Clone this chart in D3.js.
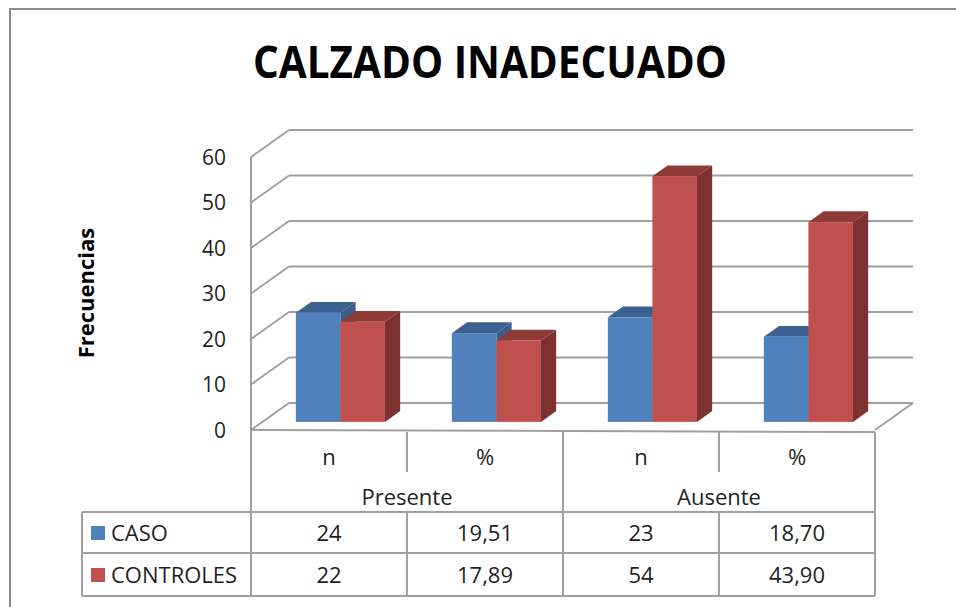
<!DOCTYPE html>
<html>
<head>
<meta charset="utf-8">
<script src="https://cdn.jsdelivr.net/npm/d3@7"></script>
<style>
  body { margin: 0; background: #fff; }
  svg { display: block; font-family: "Open Sans", sans-serif; }
</style>
</head>
<body>
<svg id="chart" width="956" height="607"></svg>
<script>
// data
const categories = ['Presente n', 'Presente %', 'Ausente n', 'Ausente %'];
const subLabels = ['n', '%', 'n', '%'];
const groups = ['Presente', 'Ausente'];
const seriesNames = ['CASO', 'CONTROLES'];
const casoValues = [24, 19.51, 23, 18.70];
const controlesValues = [22, 17.89, 54, 43.90];
const casoLabels = ['24', '19,51', '23', '18,70'];
const controlesLabels = ['22', '17,89', '54', '43,90'];
const yTicks = [0, 10, 20, 30, 40, 50, 60];

const colors = {
  CASO: { front: '#4f81bd', top: '#3c6190', side: '#385d8a' },
  CONTROLES: { front: '#c0504d', top: '#903a38', side: '#7d3130' }
};

const svg = d3.select('#chart');
const gridColor = '#a0a0a0';

// outer frame
svg.append('rect')
  .attr('x', 10).attr('y', 9).attr('width', 960).attr('height', 620)
  .attr('fill', 'none').attr('stroke', '#8c8c8c').attr('stroke-width', 2);

// title
svg.append('text')
  .attr('x', 490).attr('y', 62)
  .attr('dy', '0.35em')
  .attr('text-anchor', 'middle')
  .attr('textLength', 474)
  .attr('lengthAdjust', 'spacingAndGlyphs')
  .style('font-size', '45px')
  .style('font-weight', 'bold')
  .style('fill', '#000')
  .text('CALZADO INADECUADO');

// 3d projection params
const DX = 38, DY = 27;
const x = d3.scaleBand().domain(categories).range([251, 875]).paddingInner(0).paddingOuter(0);
const xs = d3.scaleBand().domain(seriesNames).range([0, x.bandwidth()]).paddingInner(0).paddingOuter(0.75);
const y = d3.scaleLinear().domain([0, 60]).range([430, 157]);

const px = (xf, d) => xf + d * DX;
const py = (v, d) => y(v) - d * DY;

// walls / grid
const grid = svg.append('g').attr('stroke', gridColor).attr('stroke-width', 2).attr('fill', 'none');
yTicks.forEach(t => {
  grid.append('line')
    .attr('x1', px(251, 1)).attr('y1', py(t, 1))
    .attr('x2', px(875, 1)).attr('y2', py(t, 1));
  grid.append('line')
    .attr('x1', px(251, 0)).attr('y1', py(t, 0))
    .attr('x2', px(251, 1)).attr('y2', py(t, 1));
});
grid.append('line')
  .attr('x1', 251).attr('y1', y(60)).attr('x2', 251).attr('y2', y(0));
// floor right edge
grid.append('line')
  .attr('x1', px(875, 0)).attr('y1', py(0, 0))
  .attr('x2', px(875, 1)).attr('y2', py(0, 1));

// y tick labels
svg.append('g').selectAll('text')
  .data(yTicks).enter().append('text')
  .attr('x', 226).attr('y', d => y(d))
  .attr('dy', '0.36em')
  .attr('text-anchor', 'end')
  .style('font-size', '21px')
  .style('fill', '#1f1f1f')
  .text(d => d);

// axis title
svg.append('text')
  .attr('transform', 'translate(86,293) rotate(-90)')
  .attr('dy', '0.35em')
  .attr('text-anchor', 'middle')
  .style('font-size', '22px')
  .style('font-weight', 'bold')
  .style('fill', '#000')
  .text('Frecuencias');

// bars
const d0 = 0.3, d1 = 0.7;
const bars = svg.append('g');
categories.forEach((c, i) => {
  const vals = { CASO: casoValues[i], CONTROLES: controlesValues[i] };
  seriesNames.forEach(s => {
    const v = vals[s];
    const xl = px(x(c) + xs(s), d0);
    const xr = xl + xs.bandwidth();
    const yb = py(0, d0);
    const yt = py(v, d0);
    const ox = (d1 - d0) * DX, oy = (d1 - d0) * DY;
    bars.append('path')
      .attr('d', `M${xr},${yt}L${xr + ox},${yt - oy}L${xr + ox},${yb - oy}L${xr},${yb}Z`)
      .attr('fill', colors[s].side);
    bars.append('path')
      .attr('d', `M${xl},${yt}L${xr},${yt}L${xr + ox},${yt - oy}L${xl + ox},${yt - oy}Z`)
      .attr('fill', colors[s].top);
    bars.append('rect')
      .attr('x', xl).attr('y', yt)
      .attr('width', xr - xl).attr('height', yb - yt)
      .attr('fill', colors[s].front);
  });
});

// data table
const tbl = svg.append('g').attr('stroke', gridColor).attr('stroke-width', 2);
const tTop = 432, tHead = 512, tRow1 = 553, tBot = 596, legL = 82;
const cx = c => x(c) + x.bandwidth() / 2;
tbl.append('line').attr('x1', 251).attr('y1', y(0)).attr('x2', 875).attr('y2', tTop);
[tHead, tRow1, tBot].forEach(yy => {
  tbl.append('line').attr('x1', legL).attr('y1', yy).attr('x2', 875).attr('y2', yy);
});
[251, x(categories[2]), 875].forEach(xx => {
  tbl.append('line').attr('x1', xx).attr('y1', xx === 251 ? y(0) : tTop).attr('x2', xx).attr('y2', tBot);
});
[x(categories[1]), x(categories[3])].forEach(xx => {
  tbl.append('line').attr('x1', xx).attr('y1', tTop).attr('x2', xx).attr('y2', 472);
  tbl.append('line').attr('x1', xx).attr('y1', tHead).attr('x2', xx).attr('y2', tBot);
});
tbl.append('line').attr('x1', legL).attr('y1', tHead).attr('x2', legL).attr('y2', tBot);

const txt = svg.append('g')
  .style('font-size', '22px')
  .style('fill', '#1f1f1f');
categories.forEach((c, i) => {
  txt.append('text').attr('x', cx(c)).attr('y', 457).attr('dy', '0.35em')
    .attr('text-anchor', 'middle').text(subLabels[i]);
  txt.append('text').attr('x', cx(c)).attr('y', 533).attr('dy', '0.35em')
    .attr('text-anchor', 'middle').text(casoLabels[i]);
  txt.append('text').attr('x', cx(c)).attr('y', 575).attr('dy', '0.35em')
    .attr('text-anchor', 'middle').text(controlesLabels[i]);
});
groups.forEach((g, i) => {
  const gx = (x(categories[i * 2]) + x(categories[i * 2 + 1]) + x.bandwidth()) / 2;
  txt.append('text').attr('x', gx).attr('y', 497).attr('dy', '0.35em')
    .attr('text-anchor', 'middle').text(g);
});
seriesNames.forEach((s, i) => {
  const cy = i === 0 ? 533 : 575;
  svg.append('rect').attr('x', 91).attr('y', cy - 7).attr('width', 14).attr('height', 14)
    .attr('fill', colors[s].front);
  txt.append('text').attr('x', 111).attr('y', cy).attr('dy', '0.35em').text(s);
});
</script>
</body>
</html>
